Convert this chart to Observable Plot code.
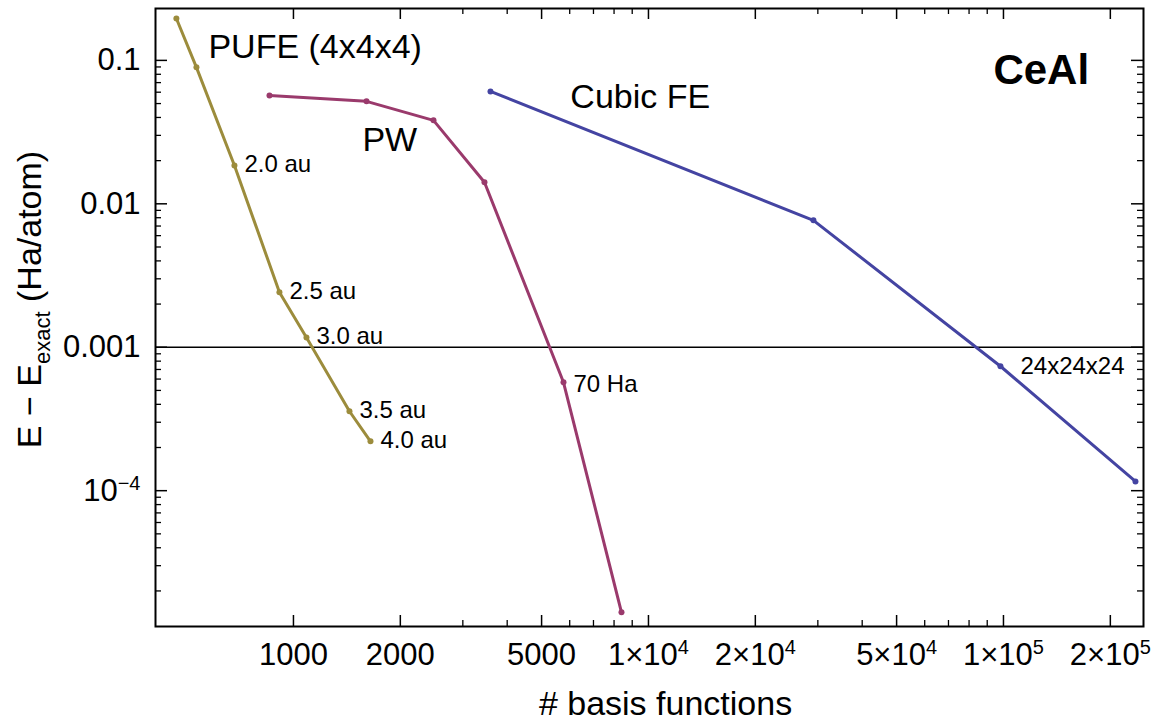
<!DOCTYPE html>
<html><head><meta charset="utf-8">
<script src="https://cdn.jsdelivr.net/npm/d3@7"></script>
<script src="https://cdn.jsdelivr.net/npm/@observablehq/plot@0.6"></script>
<style>
html,body{margin:0;padding:0;background:#fff;}
#chart svg{display:block;}
</style></head><body><div id="chart"></div>
<script>
// ---- data ----
const pufeX = [468, 533, 682, 913, 1088, 1438, 1648];
const pufeY = [0.196, 0.0894, 0.0185, 0.00242, 0.00117, 0.000358, 0.000221];
const pufeLabels = ["", "", "2.0 au", "2.5 au", "3.0 au", "3.5 au", "4.0 au"];

const pwX = [856, 1606, 2480, 3452, 5763, 8395];
const pwY = [0.057, 0.0518, 0.0382, 0.01413, 0.00057, 1.42e-5];
const pwLabels = ["", "", "", "", "70 Ha", ""];

const feX = [3589, 29150, 98060, 235400];
const feY = [0.0608, 0.00767, 0.000737, 0.000116];
const feLabels = ["", "", "24x24x24", ""];

const seriesNames = ["PUFE (4x4x4)", "PW", "Cubic FE"];
const seriesLabelX = [576, 1564, 6026];
const seriesLabelY = [0.1232, 0.0277, 0.0552];
const systemName = ["CeAl"];
const systemX = [93700];
const systemY = [0.0852];
const refLevel = [0.001];

const xTicksMajor = [1000, 2000, 5000, 1e4, 2e4, 5e4, 1e5, 2e5];
const xTickLabels = ["1000", "2000", "5000", "1×10⁴", "2×10⁴", "5×10⁴", "1×10⁵", "2×10⁵"];
const xTicksMinor = [3000, 4000, 6000, 7000, 8000, 9000, 3e4, 4e4, 6e4, 7e4, 8e4, 9e4];
const yTicksMajor = [0.1, 0.01, 0.001, 1e-4];
const yTickLabels = ["0.1", "0.01", "0.001", "10⁻⁴"];
const yTicksMinor = [2e-5,3e-5,4e-5,5e-5,6e-5,7e-5,8e-5,9e-5,
                     2e-4,3e-4,4e-4,5e-4,6e-4,7e-4,8e-4,9e-4,
                     2e-3,3e-3,4e-3,5e-3,6e-3,7e-3,8e-3,9e-3,
                     0.02,0.03,0.04,0.05,0.06,0.07,0.08,0.09];
const xTitle = ["# basis functions"];
const yTitle = ["E − Eexact (Ha/atom)"];

const colors = {pufe: "#9c8c3c", pw: "#9a3a6c", fe: "#4444a2"};

// ---- layout ----
const W = 1163, H = 721, mL = 155, mR = 20, mT = 8, mB = 95;
const fw = W - mL - mR, fh = H - mT - mB;
const font = "'Liberation Sans', Arial, Helvetica, sans-serif";

const pufe = pufeX.map((x, i) => ({x, y: pufeY[i], label: pufeLabels[i]}));
const pw = pwX.map((x, i) => ({x, y: pwY[i], label: pwLabels[i]}));
const fe = feX.map((x, i) => ({x, y: feY[i], label: feLabels[i]}));
const seriesTbl = seriesNames.map((n, i) => ({n, x: seriesLabelX[i], y: seriesLabelY[i]}));
const xTickTbl = xTicksMajor.map((v, i) => ({v, t: xTickLabels[i]}));
const yTickTbl = yTicksMajor.map((v, i) => ({v, t: yTickLabels[i]}));

const chart = Plot.plot({
  width: W, height: H,
  marginLeft: mL, marginRight: mR, marginTop: mT, marginBottom: mB,
  style: {fontFamily: font, background: "#fff", color: "#000", overflow: "visible"},
  x: {type: "log", domain: [408.7, 248000], axis: null},
  y: {type: "log", domain: [1.13e-5, 0.23], axis: null},
  marks: [
    Plot.ruleY(refLevel, {y: d => d, stroke: "#000", strokeWidth: 1.6}),
    // inward ticks: bottom / top
    Plot.ruleX(xTicksMajor, {x: d => d, insetTop: fh - 11, stroke: "#000", strokeWidth: 1.5}),
    Plot.ruleX(xTicksMinor, {x: d => d, insetTop: fh - 6, stroke: "#000", strokeWidth: 1.3}),
    Plot.ruleX(xTicksMajor, {x: d => d, insetBottom: fh - 11, stroke: "#000", strokeWidth: 1.5}),
    Plot.ruleX(xTicksMinor, {x: d => d, insetBottom: fh - 6, stroke: "#000", strokeWidth: 1.3}),
    // inward ticks: left / right
    Plot.ruleY(yTicksMajor, {y: d => d, insetRight: fw - 12, stroke: "#000", strokeWidth: 1.5}),
    Plot.ruleY(yTicksMinor, {y: d => d, insetRight: fw - 6, stroke: "#000", strokeWidth: 1.3}),
    Plot.ruleY(yTicksMajor, {y: d => d, insetLeft: fw - 12, stroke: "#000", strokeWidth: 1.5}),
    Plot.ruleY(yTicksMinor, {y: d => d, insetLeft: fw - 6, stroke: "#000", strokeWidth: 1.3}),
    Plot.frame({stroke: "#000", strokeWidth: 2}),
    // tick labels
    Plot.text(xTickTbl, {x: "v", frameAnchor: "bottom", lineAnchor: "middle", textAnchor: "middle", dy: 29, text: "t", fontSize: 31, fill: "#000"}),
    Plot.text(yTickTbl, {y: "v", frameAnchor: "left", lineAnchor: "middle", dx: -15, textAnchor: "end", text: "t", fontSize: 31, fill: "#000"}),
    // series
    Plot.line(pufe, {x: "x", y: "y", stroke: colors.pufe, strokeWidth: 3}),
    Plot.dot(pufe, {x: "x", y: "y", fill: colors.pufe, r: 3}),
    Plot.line(pw, {x: "x", y: "y", stroke: colors.pw, strokeWidth: 3}),
    Plot.dot(pw, {x: "x", y: "y", fill: colors.pw, r: 3}),
    Plot.line(fe, {x: "x", y: "y", stroke: colors.fe, strokeWidth: 3}),
    Plot.dot(fe, {x: "x", y: "y", fill: colors.fe, r: 3}),
    // point labels
    Plot.text(pufe, {x: "x", y: "y", text: "label", textAnchor: "start", dx: 10, dy: -1, fontSize: 24, fill: "#000"}),
    Plot.text(pw, {x: "x", y: "y", text: "label", textAnchor: "start", dx: 10, dy: 2, fontSize: 24, fill: "#000"}),
    Plot.text(fe, {x: "x", y: "y", text: "label", textAnchor: "start", dx: 20, dy: 0, fontSize: 24, fill: "#000"}),
    // series names and system
    Plot.text(seriesTbl, {x: "x", y: "y", text: "n", textAnchor: "start", fontSize: 34, fill: "#000"}),
    Plot.text(systemName, {x: () => systemX[0], y: () => systemY[0], text: d => d, textAnchor: "start", fontSize: 42, fontWeight: "bold", fill: "#000"}),
    // axis titles
    Plot.text(xTitle, {frameAnchor: "bottom", lineAnchor: "middle", textAnchor: "middle", dx: 16, dy: 78, text: d => d, fontSize: 34, fill: "#000"}),
    Plot.text(yTitle, {frameAnchor: "left", lineAnchor: "middle", textAnchor: "middle", dx: -125, dy: -18, rotate: -90, text: d => d, fontSize: 34, fill: "#000"})
  ]
});

// rich text: subscript in the y title, superscripts in tick labels
const ns = "http://www.w3.org/2000/svg";
const supMap = {"⁰":"0","¹":"1","²":"2","³":"3","⁴":"4","⁵":"5","⁶":"6","⁷":"7","⁸":"8","⁹":"9","⁻":"−"};
for (const t of chart.querySelectorAll("text")) {
  const s = t.textContent;
  if (s === yTitle[0]) {
    t.textContent = "";
    const parts = [["E − E", 0, null], ["exact", 9, "22"], [" (Ha/atom)", -9, null]];
    for (const [txt, dy, fs] of parts) {
      const ts = document.createElementNS(ns, "tspan");
      ts.textContent = txt;
      if (dy) ts.setAttribute("dy", dy);
      if (fs) ts.setAttribute("font-size", fs);
      t.appendChild(ts);
    }
  } else if (/[⁰-⁹⁻]/.test(s)) {
    const m = s.match(/^([^⁰-⁹⁻]*)([⁰-⁹⁻]+)$/);
    if (m) {
      t.textContent = "";
      const base = document.createElementNS(ns, "tspan");
      base.textContent = m[1];
      const sup = document.createElementNS(ns, "tspan");
      sup.textContent = [...m[2]].map(c => supMap[c] || c).join("");
      sup.setAttribute("font-size", "20");
      sup.setAttribute("dy", "-11");
      t.appendChild(base); t.appendChild(sup);
    }
  }
}
document.getElementById("chart").appendChild(chart);
</script></body></html>
